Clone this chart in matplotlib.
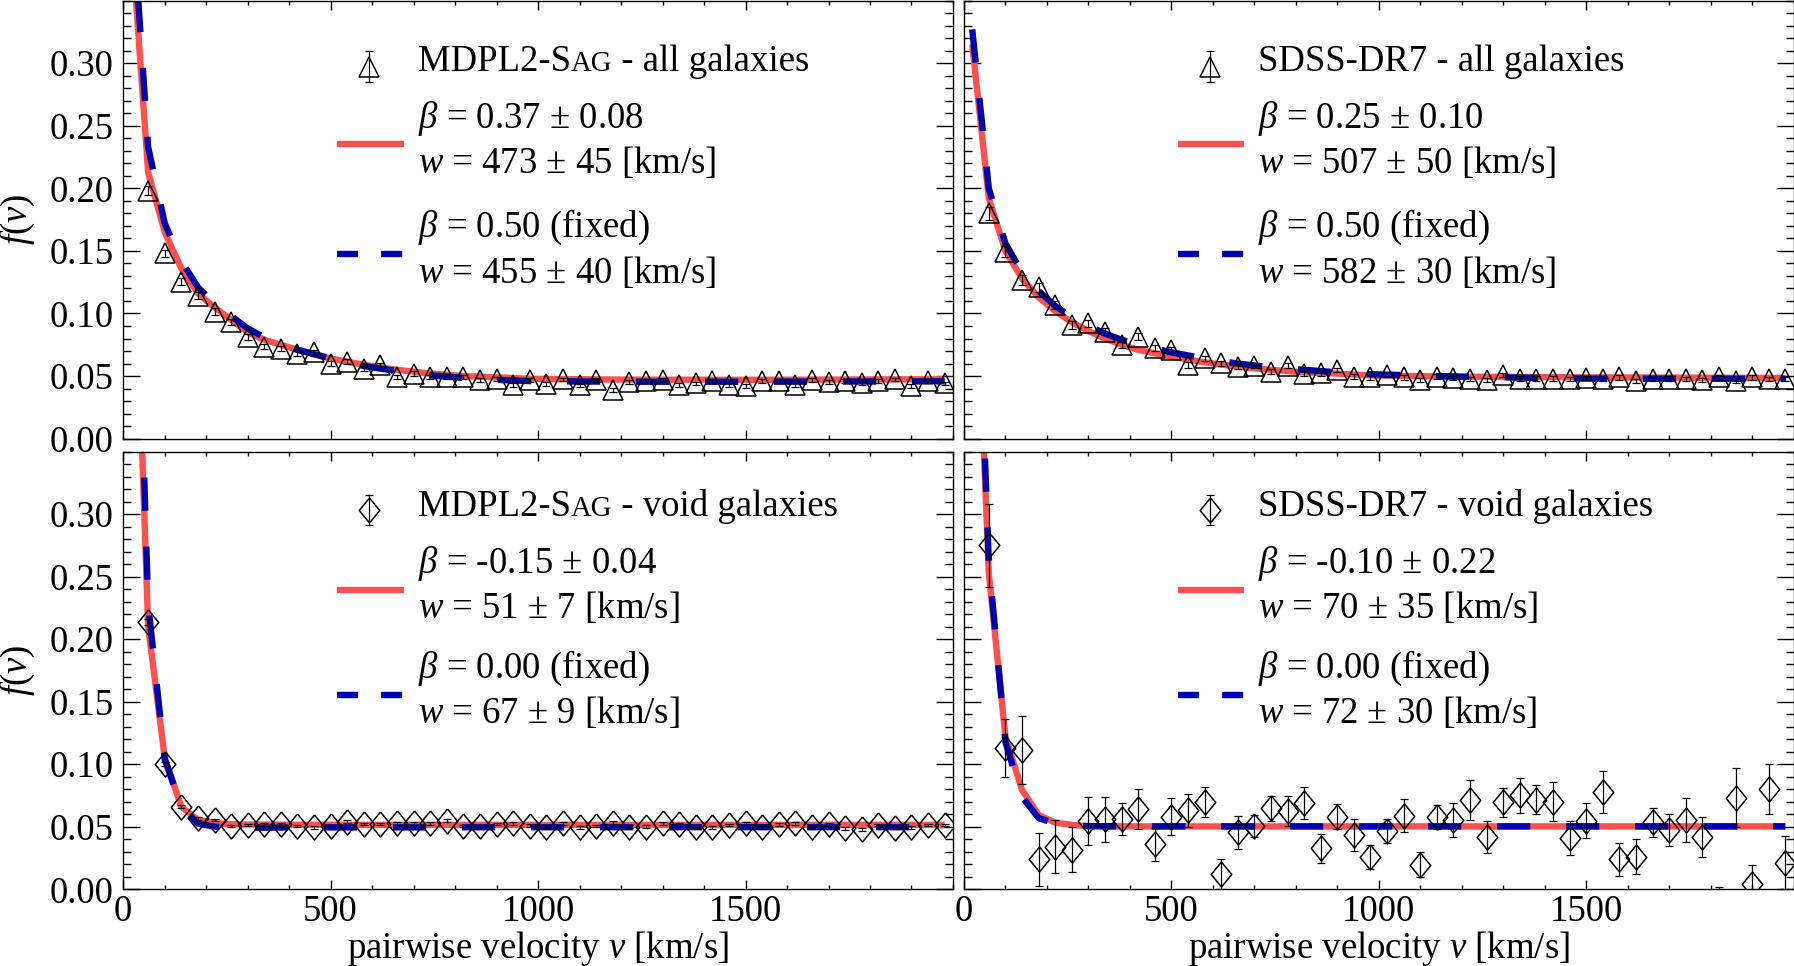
import numpy as np
import matplotlib
matplotlib.use("Agg")
import matplotlib.pyplot as plt
from matplotlib.ticker import MultipleLocator, FixedLocator

plt.rcParams['font.family'] = ['Liberation Serif', 'DejaVu Serif']
plt.rcParams['mathtext.fontset'] = 'custom'
plt.rcParams['mathtext.rm'] = 'Liberation Serif'
plt.rcParams['mathtext.it'] = 'Liberation Serif:italic'

# pairwise velocity bins [km/s]
v_bins = [60, 100, 140, 180, 220, 260, 300, 340, 380, 420, 460, 500, 540, 580, 620,
          660, 700, 740, 780, 820, 860, 900, 940, 980, 1020, 1060, 1100, 1140, 1180,
          1220, 1260, 1300, 1340, 1380, 1420, 1460, 1500, 1540, 1580, 1620, 1660,
          1700, 1740, 1780, 1820, 1860, 1900, 1940, 1980]

# MDPL2-SAG all galaxies
mdpl_all_f = [0.198, 0.148, 0.1255, 0.114, 0.1015, 0.0935, 0.0815, 0.0735, 0.072, 0.068,
              0.069, 0.060, 0.0615, 0.056, 0.059, 0.0495, 0.052, 0.0495, 0.0495, 0.0495,
              0.047, 0.048, 0.043, 0.047, 0.0436, 0.0473, 0.0425, 0.0468, 0.039, 0.0455,
              0.046, 0.0468, 0.0428, 0.0441, 0.0463, 0.0428, 0.042, 0.046, 0.046, 0.043,
              0.0468, 0.0455, 0.0463, 0.0441, 0.046, 0.0473, 0.042, 0.0463, 0.0441]
mdpl_all_err = [0.0035, 0.003, 0.003, 0.0028, 0.0026, 0.0025, 0.0023, 0.0022, 0.002, 0.002,
                0.002, 0.0019, 0.0019, 0.0018, 0.0018, 0.0017, 0.0017, 0.0017, 0.0016, 0.0016,
                0.0016, 0.0016, 0.0015, 0.0015, 0.0015, 0.0015, 0.0015, 0.0015, 0.0015, 0.0015,
                0.0015, 0.0015, 0.0015, 0.0015, 0.0015, 0.0015, 0.0015, 0.0015, 0.0015, 0.0015,
                0.0015, 0.0015, 0.0015, 0.0015, 0.0015, 0.0015, 0.0015, 0.0015, 0.0015]

# SDSS-DR7 all galaxies
sdss_all_f = [0.180, 0.1494, 0.1268, 0.121, 0.1068, 0.0908, 0.0922, 0.0855, 0.0749, 0.0815,
              0.0722, 0.0709, 0.0589, 0.0642, 0.0602, 0.0575, 0.0583, 0.0535, 0.0583, 0.0517,
              0.0522, 0.0549, 0.0496, 0.049, 0.0509, 0.049, 0.0469, 0.0496, 0.0483, 0.0475,
              0.0469, 0.0507, 0.048, 0.048, 0.048, 0.0477, 0.0485, 0.0477, 0.049, 0.0461,
              0.0475, 0.048, 0.0475, 0.0469, 0.049, 0.0461, 0.049, 0.0475, 0.0475]
sdss_all_err = [0.0053, 0.0045, 0.004, 0.0036, 0.0033, 0.003, 0.003, 0.0028, 0.0027, 0.0026,
                0.0025, 0.0024, 0.0023, 0.0022, 0.0022, 0.0021, 0.0021, 0.002, 0.002, 0.002,
                0.0019, 0.0019, 0.0019, 0.0018, 0.0018, 0.0018, 0.0018, 0.0018, 0.0018, 0.0018,
                0.0018, 0.0018, 0.0018, 0.0018, 0.0018, 0.0018, 0.0018, 0.0018, 0.0018, 0.0018,
                0.0018, 0.0018, 0.0018, 0.0018, 0.0018, 0.0018, 0.0018, 0.0018, 0.0018]

# MDPL2-SAG void galaxies
mdpl_void_f = [0.2136, 0.100, 0.0661, 0.0568, 0.0555, 0.0507, 0.0515, 0.052, 0.052, 0.0507,
               0.0496, 0.0507, 0.0541, 0.0523, 0.0523, 0.0528, 0.0528, 0.0528, 0.0549, 0.0507,
               0.0507, 0.0523, 0.0528, 0.051, 0.0501, 0.0528, 0.0496, 0.0507, 0.0533, 0.0501,
               0.0501, 0.0528, 0.0523, 0.0501, 0.0496, 0.0515, 0.0528, 0.0496, 0.052, 0.0528,
               0.0496, 0.052, 0.0488, 0.048, 0.0515, 0.0493, 0.0496, 0.0515, 0.0515]
mdpl_void_err = [0.0025, 0.0018, 0.0013, 0.0012, 0.0011, 0.001, 0.001, 0.001, 0.001, 0.001,
                 0.001, 0.001, 0.001, 0.001, 0.001, 0.001, 0.001, 0.001, 0.001, 0.001,
                 0.001, 0.001, 0.001, 0.001, 0.001, 0.001, 0.001, 0.001, 0.001, 0.001,
                 0.001, 0.001, 0.001, 0.001, 0.001, 0.001, 0.001, 0.001, 0.001, 0.001,
                 0.001, 0.001, 0.001, 0.001, 0.001, 0.001, 0.001, 0.001, 0.001]

# SDSS-DR7 void galaxies
sdss_void_f = [0.275, 0.1128, 0.1115, 0.024, 0.0341, 0.0315, 0.0547, 0.056, 0.0563, 0.0645,
               0.036, 0.0581, 0.063, 0.070, 0.012, 0.0456, 0.0507, 0.0648, 0.0627, 0.0688,
               0.0328, 0.0581, 0.0435, 0.0261, 0.0467, 0.059, 0.0195, 0.058, 0.0555, 0.0715,
               0.042, 0.0696, 0.075, 0.0715, 0.070, 0.0408, 0.055, 0.0776, 0.024, 0.0261,
               0.0536, 0.0475, 0.0555, 0.042, -0.012, 0.0733, 0.004, 0.080, 0.0213]
sdss_void_err = [0.033, 0.023, 0.027, 0.021, 0.021, 0.018, 0.019, 0.018, 0.013, 0.016,
                 0.013, 0.015, 0.013, 0.012, 0.012, 0.013, 0.009, 0.010, 0.012, 0.0127,
                 0.0116, 0.010, 0.0125, 0.0096, 0.0097, 0.013, 0.010, 0.0097, 0.0133, 0.0157,
                 0.0128, 0.0115, 0.014, 0.0115, 0.0157, 0.0137, 0.014, 0.017, 0.0133, 0.014,
                 0.0117, 0.013, 0.0176, 0.016, 0.014, 0.0233, 0.0155, 0.020, 0.021]

# fitted models
fit_v = [20, 60, 100, 140, 180, 220, 260, 300, 340, 380, 420, 500, 580, 660, 740, 820,
         900, 980, 1200, 1500, 1980]
mdpl_all_free = [0.40, 0.213, 0.165, 0.136, 0.116, 0.105, 0.095, 0.085, 0.079, 0.075, 0.071,
                 0.064, 0.059, 0.055, 0.052, 0.050, 0.049, 0.0478, 0.0472, 0.047, 0.0475]
mdpl_all_fixed = [0.43, 0.233, 0.172, 0.142, 0.121, 0.108, 0.098, 0.088, 0.081, 0.076, 0.071,
                  0.064, 0.058, 0.054, 0.0506, 0.0485, 0.047, 0.046, 0.0455, 0.0455, 0.0458]
sdss_all_free = [0.315, 0.192, 0.150, 0.128, 0.113, 0.102, 0.093, 0.086, 0.080, 0.075, 0.071,
                 0.0655, 0.061, 0.0575, 0.055, 0.053, 0.052, 0.0505, 0.0495, 0.049, 0.0485]
sdss_all_fixed = [0.327, 0.200, 0.156, 0.133, 0.118, 0.106, 0.097, 0.090, 0.084, 0.079, 0.075,
                  0.069, 0.064, 0.060, 0.057, 0.055, 0.053, 0.0515, 0.0495, 0.048, 0.0478]
mdpl_void_free = [0.60, 0.210, 0.105, 0.066, 0.0555, 0.053, 0.052, 0.0518, 0.0517, 0.0516,
                  0.0516, 0.0516, 0.0515, 0.0515, 0.0515, 0.0515, 0.0515, 0.0515, 0.0515,
                  0.0515, 0.0515]
mdpl_void_fixed = [0.66, 0.228, 0.104, 0.066, 0.0525, 0.050, 0.0495, 0.0492, 0.0493, 0.0494,
                   0.0494, 0.0495, 0.0495, 0.0495, 0.0495, 0.0496, 0.0496, 0.0496, 0.0496,
                   0.0497, 0.0497]
sdss_void_free = [0.58, 0.253, 0.122, 0.0795, 0.0595, 0.0533, 0.0515, 0.0505, 0.0504, 0.0503,
                  0.0503, 0.0503, 0.0503, 0.0503, 0.0503, 0.0503, 0.0503, 0.0503, 0.0503,
                  0.0503, 0.0503]
sdss_void_fixed = [0.62, 0.262, 0.118, 0.074, 0.057, 0.0525, 0.051, 0.0505, 0.0504, 0.0503,
                   0.0503, 0.0503, 0.0503, 0.0503, 0.0503, 0.0503, 0.0503, 0.0503, 0.0503,
                   0.0503, 0.0503]

titles = [
    [("MDPL2-S", 1.0), ("AG", 0.78), (" - all galaxies", 1.0)],
    [("SDSS-DR7 - all galaxies", 1.0)],
    [("MDPL2-S", 1.0), ("AG", 0.78), (" - void galaxies", 1.0)],
    [("SDSS-DR7 - void galaxies", 1.0)],
]
fit_labels = [
    (r"$\beta$ = 0.37 ± 0.08", r"$w$ = 473 ± 45 [km/s]", r"$\beta$ = 0.50 (fixed)", r"$w$ = 455 ± 40 [km/s]"),
    (r"$\beta$ = 0.25 ± 0.10", r"$w$ = 507 ± 50 [km/s]", r"$\beta$ = 0.50 (fixed)", r"$w$ = 582 ± 30 [km/s]"),
    (r"$\beta$ = -0.15 ± 0.04", r"$w$ = 51 ± 7 [km/s]", r"$\beta$ = 0.00 (fixed)", r"$w$ = 67 ± 9 [km/s]"),
    (r"$\beta$ = -0.10 ± 0.22", r"$w$ = 70 ± 35 [km/s]", r"$\beta$ = 0.00 (fixed)", r"$w$ = 72 ± 30 [km/s]"),
]

RED = '#ff5050'
BLUE = '#0000b0'
FS = 26.5
diamond = [(0, 1), (0.82, 0), (0, -1), (-0.82, 0), (0, 1)]

fig = plt.figure(figsize=(17.94, 9.66), dpi=100)
positions = [
    [0.0687, 0.5459, 0.4625, 0.4535],
    [0.5373, 0.5459, 0.4625, 0.4535],
    [0.0687, 0.0794, 0.4625, 0.4532],
    [0.5373, 0.0794, 0.4625, 0.4532],
]
panels = [
    (mdpl_all_f, mdpl_all_err, mdpl_all_free, mdpl_all_fixed, '^', 15),
    (sdss_all_f, sdss_all_err, sdss_all_free, sdss_all_fixed, '^', 15),
    (mdpl_void_f, mdpl_void_err, mdpl_void_free, mdpl_void_fixed, diamond, 18),
    (sdss_void_f, sdss_void_err, sdss_void_free, sdss_void_fixed, diamond, 18),
]

renderer = fig.canvas.get_renderer()

for i, (pos, (f, ferr, free, fixed, mk, ms)) in enumerate(zip(positions, panels)):
    ax = fig.add_axes(pos)
    top = i < 2
    ax.plot(fit_v, free, color=RED, lw=4.6, solid_capstyle='butt', zorder=2)
    ax.plot(fit_v, fixed, color=BLUE, lw=4.6, dashes=(5.2, 5.6), zorder=2.1)
    ax.errorbar(v_bins, f, yerr=ferr, fmt='none', ecolor='k', elinewidth=0.9,
                capsize=2.9, capthick=0.9, zorder=3)
    ax.plot(v_bins, f, ls='none', marker=mk, ms=ms, mfc='none', mec='k', mew=1.1, zorder=3)

    ax.set_xlim(0, 2000)
    ax.set_ylim(0, 0.35)
    ax.xaxis.set_major_locator(FixedLocator([0, 500, 1000, 1500]))
    ax.xaxis.set_minor_locator(MultipleLocator(100))
    ax.yaxis.set_major_locator(FixedLocator([0, 0.05, 0.10, 0.15, 0.20, 0.25, 0.30]))
    ax.yaxis.set_minor_locator(MultipleLocator(0.01))
    ax.yaxis.set_major_formatter(matplotlib.ticker.FormatStrFormatter('%.2f'))
    ax.tick_params(which='both', direction='in', top=True, right=True, width=1.0,
                   labelsize=FS)
    ax.tick_params(axis='x', which='major', length=6.5, pad=3.5)
    ax.tick_params(axis='x', which='minor', length=3.2)
    ax.tick_params(axis='y', which='major', length=12, pad=7)
    ax.tick_params(axis='y', which='minor', length=6)
    for s in ax.spines.values():
        s.set_linewidth(1.0)
    if top:
        ax.tick_params(labelbottom=False)
    else:
        ax.set_xlabel(r"pairwise velocity $v$ [km/s]", fontsize=FS, labelpad=0)
    if i % 2 == 1:
        ax.tick_params(labelleft=False)
    else:
        ax.set_ylabel(r"$f$($v$)", fontsize=FS, labelpad=9)

    # legend block
    if top:
        yt, yb1, yw1, yr, yb2, yw2, yl, ys = 0.840, 0.7085, 0.6058, 0.6727, 0.461, 0.3547, 0.4216, 0.849
    else:
        yt, yb1, yw1, yr, yb2, yw2, yl, ys = 0.853, 0.722, 0.619, 0.684, 0.482, 0.379, 0.4438, 0.866
    tx = 0.355
    xs = 0.296
    ax.plot([xs, xs], [ys - 0.035, ys + 0.035], color='k', lw=0.9, transform=ax.transAxes,
            clip_on=False, zorder=3)
    ax.plot([xs, xs], [ys - 0.035, ys + 0.035], ls='none', marker='_', ms=5.8, mew=0.9,
            color='k', transform=ax.transAxes, clip_on=False, zorder=3)
    ax.plot([xs], [ys], ls='none', marker=mk, ms=ms, mfc='none', mec='k', mew=1.1,
            transform=ax.transAxes, zorder=3)
    ax.plot([0.258, 0.338], [yr, yr], color=RED, lw=4.6, solid_capstyle='butt',
            transform=ax.transAxes)
    ax.plot([0.258, 0.338], [yl, yl], color=BLUE, lw=4.6, dashes=(3.3, 3.6),
            transform=ax.transAxes)

    x = tx
    for s, scale in titles[i]:
        t = ax.text(x, yt, s, fontsize=FS * scale, transform=ax.transAxes,
                    ha='left', va='baseline')
        bb = t.get_window_extent(renderer=renderer)
        x = ax.transAxes.inverted().transform((bb.x1, bb.y0))[0]

    b1, w1, b2, w2 = fit_labels[i]
    for s, yy in [(b1, yb1), (w1, yw1), (b2, yb2), (w2, yw2)]:
        ax.text(tx, yy, s, fontsize=FS, transform=ax.transAxes, ha='left', va='baseline')

fig.savefig("out.png", dpi=100)
